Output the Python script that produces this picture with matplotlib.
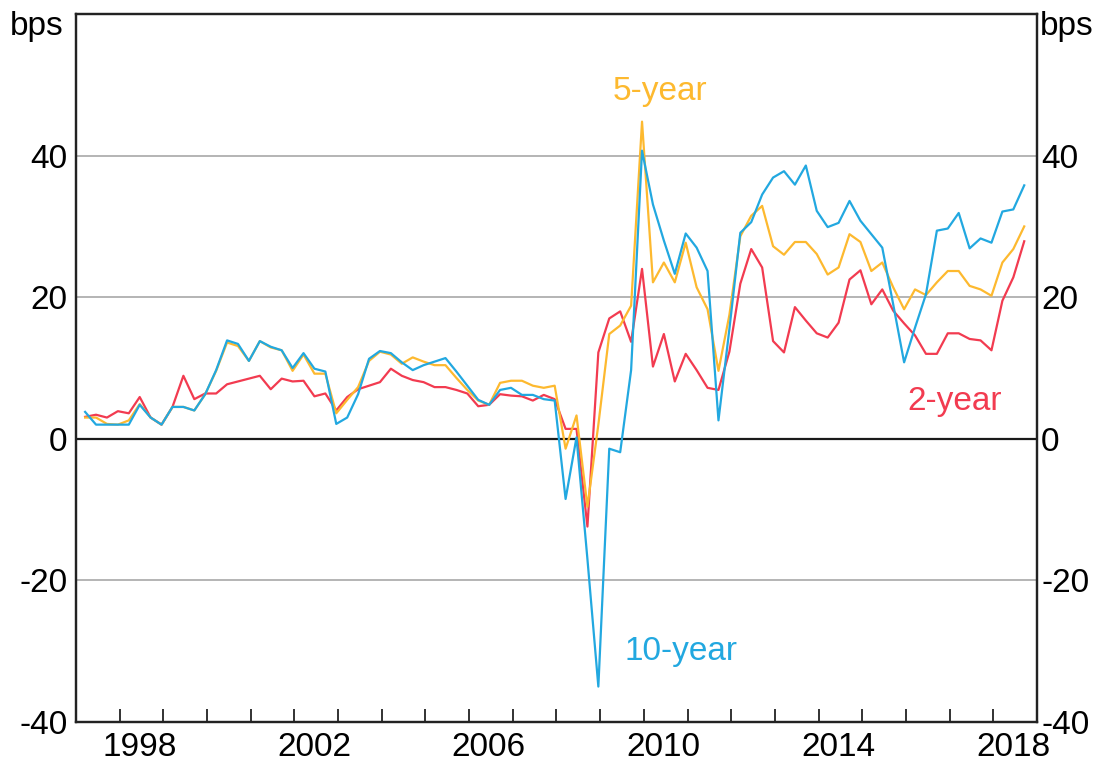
import matplotlib
matplotlib.use("Agg")
import matplotlib.pyplot as plt
import numpy as np

plt.rcParams['font.family'] = ['Liberation Sans', 'DejaVu Sans']

# Quarterly observations, 1997 Q1 to 2018 Q3
start_year = 1997
n_quarters = 87

two_year = [3.1, 3.4, 3.0, 3.9, 3.6, 5.9, 3.0, 2.0, 4.5, 8.9,
            5.6, 6.4, 6.4, 7.7, 8.1, 8.5, 8.9, 7.0, 8.5, 8.1,
            8.2, 6.0, 6.4, 4.0, 5.9, 7.0, 7.5, 8.0, 9.9, 8.9,
            8.3, 8.0, 7.3, 7.3, 6.9, 6.4, 4.6, 4.8, 6.3, 6.1,
            6.0, 5.4, 6.2, 5.6, 1.4, 1.4, -12.4, 12.2, 17.0, 18.0,
            13.7, 24.0, 10.2, 14.8, 8.1, 12.0, 9.7, 7.2, 6.9, 12.3,
            21.9, 26.8, 24.2, 13.8, 12.2, 18.6, 16.7, 14.9, 14.3, 16.4,
            22.5, 23.8, 19.0, 21.1, 18.1, 16.3, 14.6, 12.0, 12.0, 14.9,
            14.9, 14.1, 13.9, 12.5, 19.5, 22.8, 27.9]

five_year = [3.0, 3.0, 2.1, 2.0, 2.6, 4.9, 3.0, 2.0, 4.5, 4.5,
             4.0, 6.3, 9.6, 13.6, 13.1, 11.0, 13.8, 12.9, 12.5, 9.6,
             11.9, 9.2, 9.2, 3.6, 5.5, 7.3, 11.0, 12.3, 11.9, 10.6,
             11.5, 10.9, 10.4, 10.4, 8.6, 6.9, 5.4, 4.8, 7.9, 8.2,
             8.2, 7.5, 7.2, 7.5, -1.4, 3.3, -9.6, 2.0, 14.8, 16.0,
             18.8, 44.8, 22.1, 24.9, 22.1, 27.7, 21.4, 18.3, 9.6, 17.5,
             28.6, 31.5, 32.9, 27.2, 26.0, 27.8, 27.8, 26.1, 23.2, 24.2,
             28.9, 27.8, 23.7, 24.9, 21.4, 18.3, 21.1, 20.3, 22.1, 23.7,
             23.7, 21.6, 21.1, 20.2, 24.9, 26.8, 30.0]

ten_year = [3.8, 2.0, 2.0, 2.0, 2.0, 4.8, 3.0, 2.0, 4.5, 4.5,
            4.0, 6.3, 9.7, 13.9, 13.4, 11.0, 13.8, 13.0, 12.5, 10.0,
            12.1, 9.9, 9.5, 2.1, 3.0, 6.3, 11.3, 12.4, 12.1, 10.8,
            9.7, 10.4, 10.9, 11.4, 9.5, 7.5, 5.5, 4.8, 6.9, 7.2,
            6.2, 6.2, 5.6, 5.4, -8.5, 0.2, -17.0, -35.0, -1.4, -1.9,
            9.7, 40.7, 33.1, 28.0, 23.3, 29.0, 27.0, 23.7, 2.6, 15.5,
            29.1, 30.6, 34.5, 36.9, 37.8, 35.9, 38.6, 32.2, 29.9, 30.5,
            33.6, 30.8, 28.9, 27.0, 19.0, 10.8, 15.7, 20.4, 29.4, 29.7,
            31.9, 26.9, 28.3, 27.7, 32.1, 32.4, 35.8]

year_labels = ['1998', '2002', '2006', '2010', '2014', '2018']
y_ticks = [-40, -20, 0, 20, 40]

RED = '#F23B50'
YELLOW = '#FDB92F'
BLUE = '#22A8E0'
FS = 24

# mid-month of the last month of each quarter
t = np.array([start_year + (3 * (q % 4 + 1) - 0.5) / 12 + q // 4 for q in range(n_quarters)])

fig = plt.figure(figsize=(11, 7.71), dpi=100)
ax = fig.add_axes([0.0691, 0.0636, 0.8736, 0.9182])

for yv in [-20, 20, 40]:
    ax.axhline(yv, color='#B4B4B4', lw=1.4, zorder=1)
ax.axhline(0, color='#1a1a1a', lw=1.6, zorder=2)

ax.plot(t, two_year, color=RED, lw=1.6, zorder=3)
ax.plot(t, five_year, color=YELLOW, lw=1.6, zorder=4)
ax.plot(t, ten_year, color=BLUE, lw=1.6, zorder=5)

ax.set_xlim(1997.0, 2019.0)
ax.set_ylim(-40, 60)

ax.set_xticks(np.arange(1998, 2019))
ax.set_xticklabels([])
ax.set_xticks([int(y) + 0.45 for y in year_labels], minor=True)
ax.set_xticklabels(year_labels, minor=True)
ax.tick_params(axis='x', which='major', direction='in', length=9.5, width=1.3, color='#222222')
ax.tick_params(axis='x', which='minor', length=0, labelsize=FS, pad=7)

ax.set_yticks(y_ticks)
ax.set_yticklabels([str(v) for v in y_ticks])
ax.tick_params(axis='y', length=0, labelsize=FS, pad=6)

ax2 = ax.twinx()
ax2.set_ylim(-40, 60)
ax2.set_yticks(y_ticks)
ax2.set_yticklabels([str(v) for v in y_ticks])
ax2.tick_params(axis='y', length=0, labelsize=FS, pad=3)

for a in (ax, ax2):
    for s in a.spines.values():
        s.set_color('#222222')
        s.set_linewidth(1.6)

fig.text(10 / 1100, 1 - 27 / 771, 'bps', fontsize=FS, ha='left', va='center')
fig.text(1040 / 1100, 1 - 27 / 771, 'bps', fontsize=FS, ha='left', va='center')

ax.text(2010.37, 49, '5-year', color=YELLOW, fontsize=FS, ha='center', va='center')
ax.text(2010.85, -30, '10-year', color=BLUE, fontsize=FS, ha='center', va='center')
ax.text(2017.12, 5.2, '2-year', color=RED, fontsize=FS, ha='center', va='center')

fig.savefig('out.png', dpi=100)
